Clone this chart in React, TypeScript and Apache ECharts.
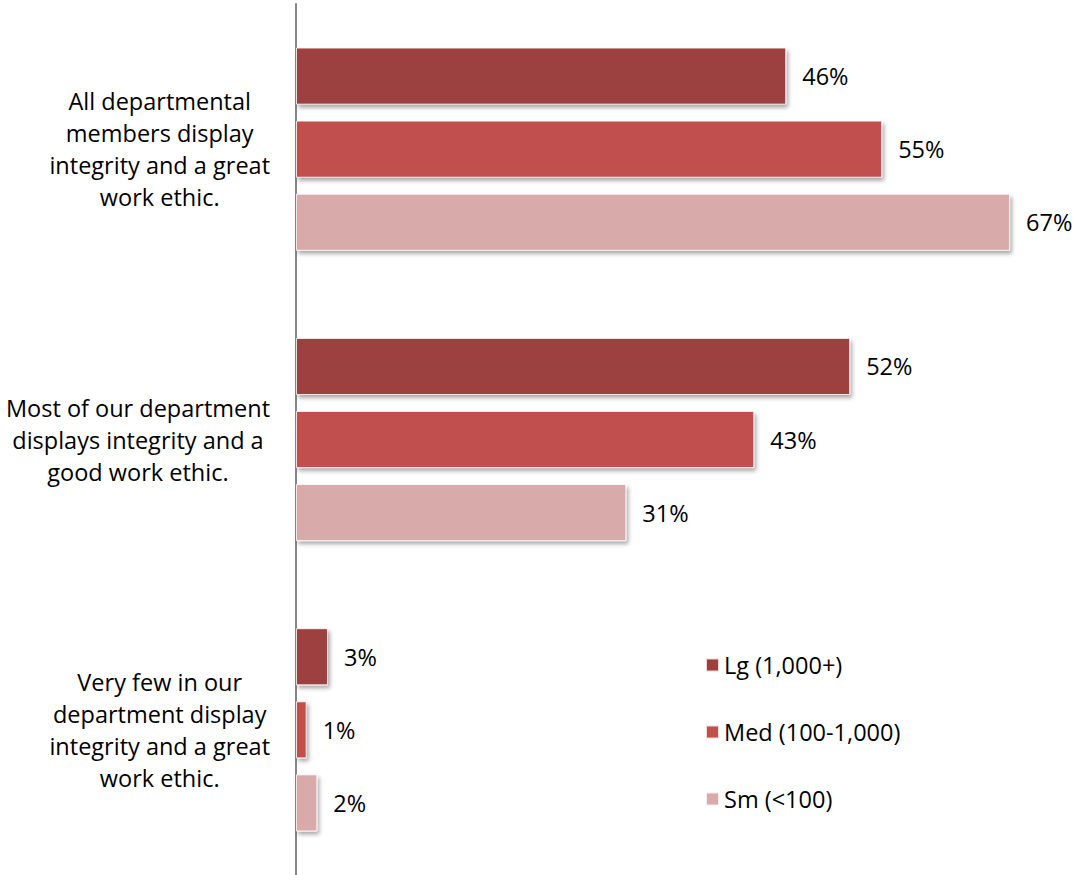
import React, { useEffect, useRef } from "react";
import * as echarts from "echarts";

const categories = [
  "All departmental\nmembers display\nintegrity and a great\nwork ethic.",
  "Most of our department\ndisplays integrity and a\ngood work ethic.",
  "Very few in our\ndepartment display\nintegrity and a great\nwork ethic.",
];
const seriesNames = ["Lg (1,000+)", "Med (100-1,000)", "Sm (<100)"];
const lgValues = [46, 52, 3];
const medValues = [55, 43, 1];
const smValues = [67, 31, 2];
const colors = ["#9C3F3F", "#C0504D", "#D9AAAA"];

const FONT = "'Open Sans', sans-serif";
const FS = 23.5;

export default function App() {
  const ref = useRef<HTMLDivElement>(null);
  useEffect(() => {
    if (!ref.current) return;
    const chart = echarts.init(ref.current, undefined, { renderer: "svg" });
    const allValues = [lgValues, medValues, smValues];
    chart.setOption({
      animation: false,
      textStyle: { fontFamily: FONT },
      grid: { left: 296, right: 33, top: 4, bottom: 0, containLabel: false },
      legend: {
        orient: "vertical",
        left: 700,
        top: 648,
        padding: 5,
        itemWidth: 13,
        itemHeight: 13,
        itemGap: 43,
        itemTextGap: 8,
        icon: "rect",
        textStyle: { fontSize: FS, color: "#000", fontFamily: FONT },
        data: seriesNames,
      },
      xAxis: {
        type: "value",
        min: 0,
        max: 70,
        show: false,
      },
      yAxis: {
        type: "category",
        inverse: true,
        data: categories,
        axisLine: { show: true, lineStyle: { color: "#868686", width: 2 } },
        axisTick: { show: false },
        axisLabel: {
          margin: 26,
          align: "right",
          formatter: (v: string) =>
            v
              .split("\n")
              .map((l) => "{c|" + l + "}")
              .join("\n"),
          rich: {
            c: {
              align: "center",
              fontSize: FS,
              lineHeight: 32,
              color: "#000",
              fontFamily: FONT,
            },
          },
        },
      },
      series: allValues.map((vals, i) => ({
        name: seriesNames[i],
        type: "bar",
        data: vals,
        barGap: "28%",
        barCategoryGap: "30%",
        itemStyle: {
          color: colors[i],
          borderColor: "rgba(255,255,255,0.8)",
          borderWidth: 1,
          shadowColor: "rgba(0,0,0,0.35)",
          shadowBlur: 4,
          shadowOffsetX: 2,
          shadowOffsetY: 3,
        },
        label: {
          show: true,
          position: "right",
          distance: 16,
          formatter: "{c}%",
          fontSize: FS,
          color: "#000",
          fontFamily: FONT,
        },
      })),
    });
    return () => chart.dispose();
  }, []);
  return (
    <div
      ref={ref}
      style={{ position: "absolute", left: 0, top: 0, width: 1075, height: 875 }}
    />
  );
}
